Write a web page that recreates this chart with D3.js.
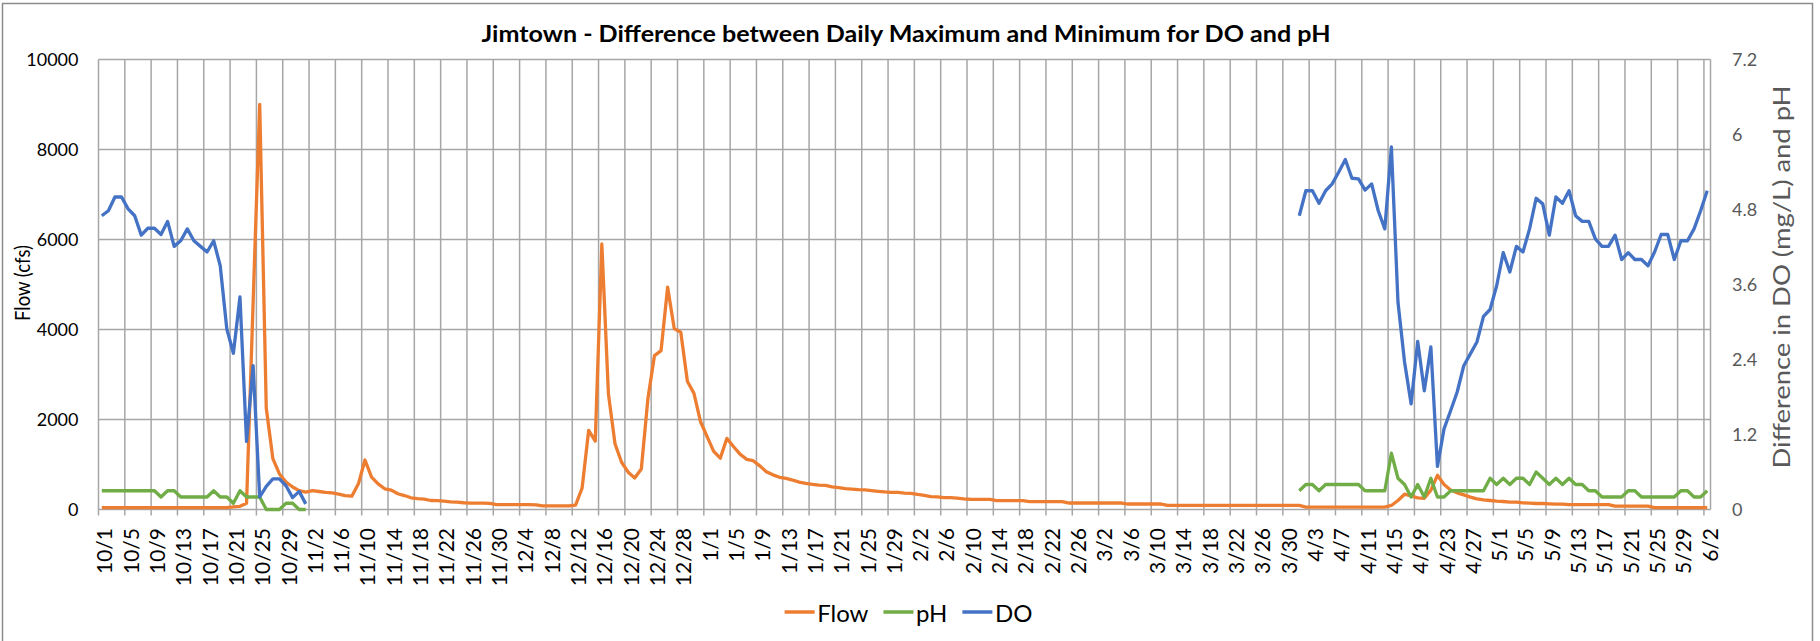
<!DOCTYPE html>
<html>
<head>
<meta charset="utf-8">
<script src="https://cdn.jsdelivr.net/npm/d3@7"></script>
<style>
    body { margin: 0; background: #fff; }
    svg text { font-family: Lato, "Open Sans", sans-serif; }
</style>
</head>
<body>
<div id="main"></div>
<script>
var ctx = {
    w: 1820,
    h: 641,
    left: 98.5,
    right: 1710.5,
    top: 59.5,
    bottom: 509.5,
};

// categories: one per day, 10/1 to 6/2
const firstDay = new Date(2018, 9, 1);
const lastDay = new Date(2019, 5, 2);
const springFirstDay = new Date(2019, 3, 1);

// Flow (cfs), one value per day
const flow = [
    40, 40, 40, 40, 40, 40, 40, 40, 40, 40, 40, 40, 40, 40, 40, 40, 40, 40, 40, 40,
    60, 70, 140, 4600, 9000, 2250, 1130, 790, 610, 500,
    420, 385, 420, 400, 380, 370, 340, 310, 295, 570,
    1100, 720, 570, 460, 430, 350, 310, 260, 240, 230,
    200, 195, 185, 170, 165, 150, 140, 140, 140, 135,
    110, 110, 110, 110, 110, 110, 105, 80, 80, 80,
    80, 80, 95, 475, 1760, 1520, 5900, 2570, 1460, 1050,
    830, 700, 900, 2460, 3420, 3530, 4940, 4020, 3940, 2850,
    2580, 1950, 1620, 1290, 1140, 1580, 1400, 1230, 1115, 1085,
    970, 840, 770, 715, 690, 655, 610, 580, 560, 540,
    535, 505, 485, 465, 455, 440, 435, 420, 405, 390,
    380, 380, 365, 360, 335, 315, 285, 280, 265, 265,
    255, 235, 228, 226, 226, 226, 196, 196, 196, 196,
    196, 174, 174, 174, 174, 174, 174, 144, 144, 144,
    144, 144, 144, 144, 144, 144, 122, 122, 122, 122,
    122, 122, 93, 93, 93, 93, 93, 93, 93, 93,
    93, 93, 93, 93, 93, 93, 93, 93, 93, 93,
    93, 93, 90, 55, 55, 55, 55, 55, 55, 55,
    55, 55, 55, 55, 55, 55, 90, 200, 340, 300,
    260, 250, 430, 760, 555, 435, 370, 325, 275, 235,
    215, 200, 185, 178, 163, 163, 148, 141, 133, 133,
    126, 118, 118, 110, 110, 110, 110, 110, 110, 110,
    75, 75, 75, 75, 75, 75, 40, 40, 40, 40,
    40, 40, 40, 40, 40,
];

// difference in pH, 10/1 - 11/1 and 4/1 - 6/2
const phFall = [
    0.3, 0.3, 0.3, 0.3, 0.3, 0.3, 0.3, 0.3, 0.3, 0.2,
    0.3, 0.3, 0.2, 0.2, 0.2, 0.2, 0.2, 0.3, 0.2, 0.2,
    0.1, 0.3, 0.2, 0.2, 0.2, 0, 0, 0, 0.1, 0.1,
    0, 0,
];
const phSpring = [
    0.3, 0.4, 0.4, 0.3, 0.4, 0.4, 0.4, 0.4, 0.4, 0.4,
    0.3, 0.3, 0.3, 0.3, 0.9, 0.5, 0.4, 0.2, 0.4, 0.2,
    0.5, 0.2, 0.2, 0.3, 0.3, 0.3, 0.3, 0.3, 0.3, 0.5,
    0.4, 0.5, 0.4, 0.5, 0.5, 0.4, 0.6, 0.5, 0.4, 0.5,
    0.4, 0.5, 0.4, 0.4, 0.3, 0.3, 0.2, 0.2, 0.2, 0.2,
    0.3, 0.3, 0.2, 0.2, 0.2, 0.2, 0.2, 0.2, 0.3, 0.3,
    0.2, 0.2, 0.3,
];

// difference in DO (mg/L), same two periods
const doFall = [
    4.70, 4.78, 5.00, 5.00, 4.81, 4.70, 4.39, 4.50, 4.50, 4.40,
    4.61, 4.21, 4.30, 4.49, 4.30, 4.21, 4.12, 4.30, 3.90, 2.89,
    2.50, 3.40, 1.09, 2.30, 0.20, 0.37, 0.49, 0.49, 0.38, 0.19,
    0.29, 0.09,
];
const doSpring = [
    4.70, 5.10, 5.10, 4.90, 5.10, 5.21, 5.40, 5.60, 5.30, 5.29,
    5.11, 5.21, 4.78, 4.49, 5.80, 3.32, 2.36, 1.69, 2.69, 1.90,
    2.60, 0.69, 1.29, 1.58, 1.88, 2.30, 2.49, 2.68, 3.09, 3.20,
    3.58, 4.11, 3.80, 4.21, 4.12, 4.49, 4.98, 4.89, 4.39, 5.00,
    4.90, 5.10, 4.70, 4.61, 4.61, 4.33, 4.21, 4.21, 4.39, 4.00,
    4.11, 4.00, 4.00, 3.90, 4.12, 4.40, 4.40, 4.00, 4.30, 4.30,
    4.49, 4.78, 5.10,
];

const flowTicks = [0, 2000, 4000, 6000, 8000, 10000];
const diffTicks = [0, 1.2, 2.4, 3.6, 4.8, 6, 7.2];
const tickEvery = 4;

const colors = { flow: "#ED7D31", ph: "#70AD47", do: "#4472C4" };
const gridColor = "#a6a6a6";

var createViz = function () {
    var svg = d3.select("#main").append("svg")
        .attr("width", ctx.w)
        .attr("height", ctx.h);

    svg.append("rect")
        .attr("x", 2.5).attr("y", 3.5)
        .attr("width", 1810).attr("height", 660)
        .attr("fill", "#fff")
        .attr("stroke", "#8c8c8c")
        .attr("stroke-width", 1.5);

    let dates = d3.timeDay.range(firstDay, d3.timeDay.offset(lastDay, 1));
    let springIdx = dates.findIndex((d) => +d === +springFirstDay);
    let fmt = d3.timeFormat("%-m/%-d");

    let x = d3.scaleBand()
        .domain(d3.range(dates.length))
        .range([ctx.left, ctx.right])
        .paddingInner(0)
        .paddingOuter(0);
    let bw = x.bandwidth();
    let yL = d3.scaleLinear().domain([0, 10000]).range([ctx.bottom, ctx.top]);
    let yR = d3.scaleLinear().domain([0, 7.2]).range([ctx.bottom, ctx.top]);

    let tickIdx = d3.range(0, dates.length, tickEvery);

    // grid
    let grid = svg.append("g")
        .attr("stroke", gridColor)
        .attr("stroke-width", 1.5);
    grid.selectAll("line.h")
        .data(flowTicks)
        .enter()
        .append("line")
        .attr("x1", ctx.left).attr("x2", ctx.right)
        .attr("y1", (d) => yL(d)).attr("y2", (d) => yL(d));
    grid.selectAll("line.v")
        .data(tickIdx)
        .enter()
        .append("line")
        .attr("x1", (d) => x(d)).attr("x2", (d) => x(d))
        .attr("y1", ctx.top).attr("y2", ctx.bottom + 6);
    grid.append("line")
        .attr("x1", ctx.right).attr("x2", ctx.right)
        .attr("y1", ctx.top).attr("y2", ctx.bottom);

    // left axis
    let axL = svg.append("g")
        .attr("transform", "translate(" + (ctx.left - 20) + ",0)")
        .call(d3.axisLeft(yL).tickValues(flowTicks).tickSize(0).tickPadding(0).tickFormat(d3.format("d")));
    axL.select(".domain").remove();
    axL.selectAll("text")
        .attr("font-size", 18)
        .attr("fill", "#000")
        .attr("font-family", "Lato");

    // right axis
    let axR = svg.append("g")
        .attr("transform", "translate(" + (ctx.right + 21.5) + ",0)")
        .call(d3.axisRight(yR).tickValues(diffTicks).tickSize(0).tickPadding(0).tickFormat((d) => d));
    axR.select(".domain").remove();
    axR.selectAll("text")
        .attr("font-size", 18)
        .attr("fill", "#595959")
        .attr("font-family", "Lato");

    // bottom labels
    svg.append("g")
        .selectAll("text")
        .data(tickIdx)
        .enter()
        .append("text")
        .attr("transform", (d) => "translate(" + (x(d) + bw / 2 + 2) + "," + 528 + ") rotate(-90)")
        .attr("text-anchor", "end")
        .attr("dominant-baseline", "central")
        .attr("font-size", 21)
        .attr("fill", "#000")
        .text((d) => fmt(dates[d]));

    // lines
    let line = d3.line()
        .x((d) => x(d.i) + bw / 2)
        .y((d) => d.y);

    let flowPts = flow.map((v, i) => ({ i: i, y: yL(v) }));
    let seg = (arr, start) => arr.map((v, k) => ({ i: start + k, y: yR(v) }));

    let series = [
        { key: "flow", pts: [flowPts] },
        { key: "ph", pts: [seg(phFall, 0), seg(phSpring, springIdx)] },
        { key: "do", pts: [seg(doFall, 0), seg(doSpring, springIdx)] },
    ];
    for (const s of series) {
        svg.append("g")
            .selectAll("path")
            .data(s.pts)
            .enter()
            .append("path")
            .attr("d", line)
            .attr("fill", "none")
            .attr("stroke", colors[s.key])
            .attr("stroke-width", 3.3)
            .attr("stroke-linejoin", "round");
    }

    // titles
    svg.append("text")
        .attr("x", 906).attr("y", 41.5)
        .attr("text-anchor", "middle")
        .attr("font-size", 22)
        .attr("font-weight", "bold")
        .attr("fill", "#000")
        .attr("textLength", 849)
        .attr("lengthAdjust", "spacingAndGlyphs")
        .text("Jimtown - Difference between Daily Maximum and Minimum for DO and pH");

    svg.append("text")
        .attr("transform", "translate(21," + 283 + ") rotate(-90)")
        .attr("text-anchor", "middle")
        .attr("dominant-baseline", "central")
        .attr("font-size", 21)
        .attr("fill", "#000")
        .attr("textLength", 76)
        .attr("lengthAdjust", "spacingAndGlyphs")
        .text("Flow (cfs)");

    svg.append("text")
        .attr("transform", "translate(1781," + 277 + ") rotate(-90)")
        .attr("text-anchor", "middle")
        .attr("dominant-baseline", "central")
        .attr("font-size", 23)
        .attr("fill", "#595959")
        .attr("textLength", 383)
        .attr("lengthAdjust", "spacingAndGlyphs")
        .text("Difference in DO (mg/L) and pH");

    // legend
    let legendItems = [
        { key: "flow", label: "Flow" },
        { key: "ph", label: "pH" },
        { key: "do", label: "DO" },
    ];
    let lg = svg.append("g");
    let cx = 0;
    for (const it of legendItems) {
        let g = lg.append("g").attr("transform", "translate(" + cx + ",0)");
        g.append("line")
            .attr("x1", 0).attr("x2", 30)
            .attr("y1", 0).attr("y2", 0)
            .attr("stroke", colors[it.key])
            .attr("stroke-width", 3.5);
        let t = g.append("text")
            .attr("x", 32.5)
            .attr("dominant-baseline", "central")
            .attr("font-size", 24)
            .attr("fill", "#000")
            .text(it.label);
        cx += 32.5 + t.node().getComputedTextLength() + 15;
    }
    let lw = cx - 15;
    lg.attr("transform", "translate(" + (908.5 - lw / 2) + ",612)");
};

createViz();
</script>
</body>
</html>
